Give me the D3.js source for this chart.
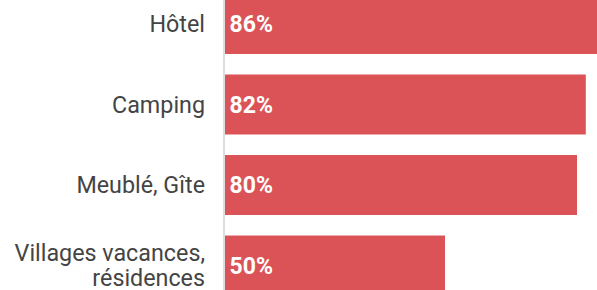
<!DOCTYPE html>
<html><head><meta charset="utf-8">
<script src="https://cdn.jsdelivr.net/npm/d3@7"></script>
<style>body{margin:0;background:#fff;} svg{display:block;}</style>
</head><body>
<script>
const categories = ["Hôtel", "Camping", "Meublé, Gîte", "Villages vacances,\nrésidences"];
const values = [86, 82, 80, 50];
const valueLabels = ["86%", "82%", "80%", "50%"];

const W = 597, H = 290;
const svg = d3.select("body").append("svg").attr("width", W).attr("height", H);

const x = d3.scaleLinear().domain([0, 100]).range([225, 665]);
const y = d3.scaleBand().domain(categories).range([-6, 295.5]).paddingInner(0.255).paddingOuter(0);

svg.append("line").attr("x1", 224).attr("x2", 224).attr("y1", 0).attr("y2", H)
  .attr("stroke", "#dddddd").attr("stroke-width", 2);

svg.selectAll("rect.bar").data(categories).join("rect").attr("class", "bar")
  .attr("x", x(0)).attr("y", d => y(d))
  .attr("width", (d, i) => x(values[i]) - x(0)).attr("height", y.bandwidth())
  .attr("fill", "#db5356");

const font = "Roboto, 'Noto Sans', sans-serif";
svg.selectAll("g.cat").data(categories).join("g").attr("class", "cat")
  .each(function (d) {
    const lines = d.split("\n");
    const cy = y(d) + y.bandwidth() / 2;
    const lh = 25;
    const g = d3.select(this);
    lines.forEach((l, k) => {
      g.append("text").attr("x", 205)
        .attr("y", cy + (k - (lines.length - 1) / 2) * lh)
        .attr("dy", "0.35em")
        .attr("text-anchor", "end").attr("font-family", font).attr("font-size", 23.3)
        .attr("fill", "#444").text(l);
    });
  });

svg.selectAll("text.val").data(categories).join("text").attr("class", "val")
  .attr("x", x(0) + 4.5).attr("y", d => y(d) + y.bandwidth() / 2).attr("dy", "0.35em")
  .attr("font-family", font).attr("font-size", 23).attr("font-weight", "bold")
  .attr("fill", "#fff").text((d, i) => valueLabels[i]);
</script>
</body></html>
